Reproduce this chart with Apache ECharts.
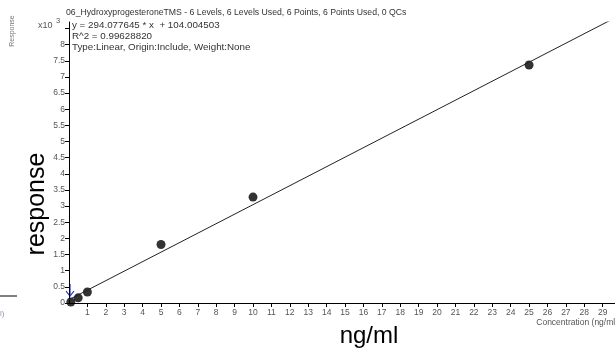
<!DOCTYPE html>
<html><head><meta charset="utf-8">
<script src="https://cdn.jsdelivr.net/npm/echarts@6/dist/echarts.min.js"></script>
<style>html,body{margin:0;padding:0;background:#fff}#c{width:615px;height:349px}</style>
</head><body><div id="c"></div>
<script>
// Calibration points (ng/ml, response x10^3)
const concentrations = [0.1, 0.5, 1, 5, 10, 25];
const responses = [0.03, 0.16, 0.34, 1.81, 3.28, 7.37];
// Fitted line endpoints (x, response x10^3)
const fitX = [0, 30];
const fitY = [0.104, 8.926];
const titleText = '06_HydroxyprogesteroneTMS - 6 Levels, 6 Levels Used, 6 Points, 6 Points Used, 0 QCs';
const eqLines = ['y = 294.077645 * x  + 104.004503', 'R^2 = 0.99628820', 'Type:Linear, Origin:Include, Weight:None'];

const chart = echarts.init(document.getElementById('c'), null, {renderer: 'canvas'});
const F = 'Liberation Sans, Arial, sans-serif';
const grey = '#555';
chart.setOption({
  animation: false,
  grid: {left: 69, right: 0, top: 22, bottom: 46, containLabel: false},
  xAxis: {
    type: 'value', min: 0, max: 29.67, interval: 1,
    axisLine: {lineStyle: {color: '#000', width: 1}},
    axisTick: {length: 4, lineStyle: {color: '#000'}},
    axisLabel: {color: grey, fontSize: 8.5, fontFamily: F, margin: 5, showMaxLabel: false, showMinLabel: false},
    splitLine: {show: false}
  },
  yAxis: {
    type: 'value', min: 0, max: 8.7, interval: 0.5,
    axisLine: {show: true, lineStyle: {color: '#000', width: 1}},
    axisTick: {show: true, length: 4, lineStyle: {color: '#000'}},
    axisLabel: {color: grey, fontSize: 8.5, fontFamily: F, margin: 4, showMaxLabel: false,
      formatter: v => v > 8.01 ? '' : String(v)},
    splitLine: {show: false}
  },
  series: [
    {type: 'line', data: fitX.map((x, i) => [x, fitY[i]]), showSymbol: false, clip: true,
     lineStyle: {color: '#222', width: 1}, silent: true},
    {type: 'scatter', data: concentrations.map((x, i) => [x, responses[i]]), symbolSize: 9,
     itemStyle: {color: '#000'}, clip: false}
  ],
  graphic: [
    {type: 'text', left: 66, top: 8, style: {text: titleText, fontSize: 8.7, fontFamily: F, fill: '#333'}},
    {type: 'text', left: 72, top: 20, style: {text: eqLines[0], fontSize: 9.8, fontFamily: F, fill: '#333'}},
    {type: 'text', left: 72, top: 31, style: {text: eqLines[1], fontSize: 9.8, fontFamily: F, fill: '#333'}},
    {type: 'text', left: 72, top: 42, style: {text: eqLines[2], fontSize: 9.8, fontFamily: F, fill: '#333'}},
    {type: 'text', left: 38, top: 21, style: {text: 'x10', fontSize: 9, fontFamily: F, fill: grey}},
    {type: 'text', left: 56, top: 17, style: {text: '3', fontSize: 7.5, fontFamily: F, fill: grey}},
    {type: 'text', x: 12, y: 31, rotation: Math.PI / 2, style: {text: 'Response', fontSize: 7, fontFamily: F, fill: '#777', align: 'center', verticalAlign: 'middle'}},
    {type: 'text', x: 37, y: 204, rotation: Math.PI / 2, style: {text: 'response', fontSize: 25, fontFamily: F, fill: '#000', align: 'center', verticalAlign: 'middle'}},
    {type: 'text', x: 369, y: 336, style: {text: 'ng/ml', fontSize: 24, fontFamily: F, fill: '#000', align: 'center', verticalAlign: 'middle'}},
    {type: 'text', right: -3, top: 318, style: {text: 'Concentration (ng/ml)', fontSize: 8.5, fontFamily: F, fill: grey}},
    {type: 'line', shape: {x1: 0, y1: 296, x2: 17, y2: 296}, style: {stroke: '#000', lineWidth: 1}},
    {type: 'text', left: 0, top: 310, style: {text: 'l)', fontSize: 8, fontFamily: F, fill: '#8898c0'}},
    {type: 'line', shape: {x1: 70, y1: 284, x2: 70, y2: 296}, style: {stroke: '#2233aa', lineWidth: 1.2}},
    {type: 'polyline', shape: {points: [[66, 291], [70, 296], [74, 291]]}, style: {stroke: '#2233aa', lineWidth: 1.2, fill: 'none'}}
  ]
});
</script></body></html>
